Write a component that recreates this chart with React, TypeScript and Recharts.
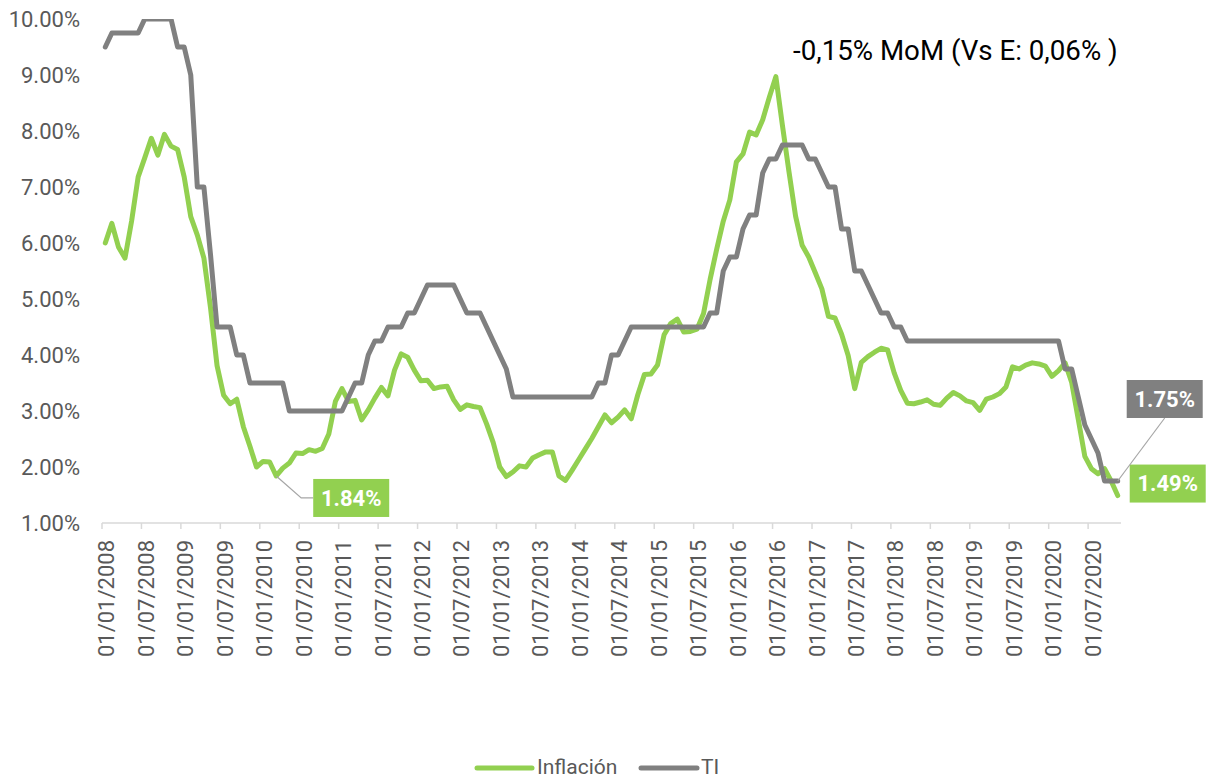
import React from 'react';
import { LineChart, Line, XAxis, YAxis, LabelList } from 'recharts';

const W = 1206;
const H = 778;
const GREEN = '#92D050';
const GRAY = '#808080';
const TEXT = '#595959';
const AXIS = '#D9D9D9';
const FONT = 'Roboto, "Liberation Sans", sans-serif';

// Monthly categories, Jan 2008 .. Nov 2020
const categories: string[] = [];
for (let y = 2008; y <= 2020; y++) {
  for (let m = 1; m <= 12; m++) {
    if (y === 2020 && m > 11) break;
    categories.push(`01/${String(m).padStart(2, '0')}/${y}`);
  }
}

const inflacion: number[] = [
  6.00, 6.35, 5.93, 5.73, 6.39, 7.18, 7.52, 7.87, 7.57, 7.94, 7.73, 7.67,
  7.18, 6.47, 6.14, 5.73, 4.85, 3.81, 3.28, 3.13, 3.21, 2.72, 2.37, 2.00,
  2.10, 2.09, 1.84, 1.98, 2.07, 2.25, 2.24, 2.31, 2.28, 2.33, 2.59, 3.17,
  3.40, 3.17, 3.19, 2.84, 3.02, 3.23, 3.42, 3.27, 3.73, 4.02, 3.96, 3.73,
  3.54, 3.55, 3.40, 3.43, 3.44, 3.20, 3.03, 3.11, 3.08, 3.06, 2.77, 2.44,
  2.00, 1.83, 1.91, 2.02, 2.00, 2.16, 2.22, 2.27, 2.27, 1.84, 1.76, 1.94,
  2.13, 2.32, 2.51, 2.72, 2.93, 2.79, 2.89, 3.02, 2.86, 3.29, 3.65, 3.66,
  3.82, 4.36, 4.56, 4.64, 4.41, 4.42, 4.46, 4.74, 5.35, 5.89, 6.39, 6.77,
  7.45, 7.59, 7.98, 7.93, 8.20, 8.60, 8.97, 8.10, 7.27, 6.48, 5.96, 5.75,
  5.47, 5.18, 4.69, 4.66, 4.37, 3.99, 3.40, 3.87, 3.97, 4.05, 4.12, 4.09,
  3.68, 3.37, 3.14, 3.13, 3.16, 3.20, 3.12, 3.10, 3.23, 3.33, 3.27, 3.18,
  3.15, 3.01, 3.21, 3.25, 3.31, 3.43, 3.79, 3.75, 3.82, 3.86, 3.84, 3.80,
  3.62, 3.72, 3.86, 3.51, 2.85, 2.19, 1.97, 1.88, 1.97, 1.75, 1.49,
];

const ti: number[] = [
  9.50, 9.75, 9.75, 9.75, 9.75, 9.75, 10.00, 10.00, 10.00, 10.00, 10.00, 9.50,
  9.50, 9.00, 7.00, 7.00, 5.80, 4.50, 4.50, 4.50, 4.00, 4.00, 3.50, 3.50,
  3.50, 3.50, 3.50, 3.50, 3.00, 3.00, 3.00, 3.00, 3.00, 3.00, 3.00, 3.00,
  3.00, 3.25, 3.50, 3.50, 4.00, 4.25, 4.25, 4.50, 4.50, 4.50, 4.75, 4.75,
  5.00, 5.25, 5.25, 5.25, 5.25, 5.25, 5.00, 4.75, 4.75, 4.75, 4.50, 4.25,
  4.00, 3.75, 3.25, 3.25, 3.25, 3.25, 3.25, 3.25, 3.25, 3.25, 3.25, 3.25,
  3.25, 3.25, 3.25, 3.50, 3.50, 4.00, 4.00, 4.25, 4.50, 4.50, 4.50, 4.50,
  4.50, 4.50, 4.50, 4.50, 4.50, 4.50, 4.50, 4.50, 4.75, 4.75, 5.50, 5.75,
  5.75, 6.25, 6.50, 6.50, 7.25, 7.50, 7.50, 7.75, 7.75, 7.75, 7.75, 7.50,
  7.50, 7.25, 7.00, 7.00, 6.25, 6.25, 5.50, 5.50, 5.25, 5.00, 4.75, 4.75,
  4.50, 4.50, 4.25, 4.25, 4.25, 4.25, 4.25, 4.25, 4.25, 4.25, 4.25, 4.25,
  4.25, 4.25, 4.25, 4.25, 4.25, 4.25, 4.25, 4.25, 4.25, 4.25, 4.25, 4.25,
  4.25, 4.25, 3.75, 3.75, 3.25, 2.75, 2.50, 2.25, 1.75, 1.75, 1.75,
];

const yTicks: number[] = [1, 2, 3, 4, 5, 6, 7, 8, 9, 10];
const seriesNames = { inflacion: 'Inflación', ti: 'TI' };
const titleText = '-0,15% MoM (Vs E: 0,06% )';

const data = categories.map((date, i) => ({ date, inflacion: inflacion[i], ti: ti[i] }));

const HALF_BAND = 3.29;

const XTick = (props: any) => {
  const { x, y, payload } = props;
  return (
    <g>
      <line x1={x - HALF_BAND} x2={x - HALF_BAND} y1={y} y2={y + 6} stroke={AXIS} strokeWidth={1.5} />
      <g transform={`translate(${x + 1.5},${y + 17})`}>
        <text transform="rotate(-90)" textAnchor="end" dy="0.35em" fill={TEXT} fontSize={22} fontFamily={FONT}>
          {payload.value}
        </text>
      </g>
    </g>
  );
};

const YTick = (props: any) => {
  const { y, payload } = props;
  return (
    <text x={80} y={y} textAnchor="end" dy="0.35em" fill={TEXT} fontSize={22} fontFamily={FONT}>
      {`${Number(payload.value).toFixed(2)}%`}
    </text>
  );
};

const LabelBox = ({ cx, cy, fill, text }: { cx: number; cy: number; fill: string; text: string }) => (
  <g>
    <rect x={cx - 38} y={cy - 19} width={76} height={38} fill={fill} />
    <text x={cx} y={cy} textAnchor="middle" dy="0.35em" fill="#FFFFFF" fontSize={22} fontWeight={700} fontFamily={FONT}>
      {text}
    </text>
  </g>
);

const InflacionLabel = (props: any) => {
  const { x, y, index, value } = props;
  if (index === 26) {
    return (
      <g>
        <polyline points={`${x},${y} ${x + 25},${y + 22} ${x + 37},${y + 22}`} fill="none" stroke="#A6A6A6" strokeWidth={1.2} />
        <LabelBox cx={x + 75} cy={y + 22} fill={GREEN} text={`${Number(value).toFixed(2)}%`} />
      </g>
    );
  }
  if (index === inflacion.length - 1) {
    return <LabelBox cx={x + 50} cy={y - 12} fill={GREEN} text={`${Number(value).toFixed(2)}%`} />;
  }
  return null;
};

const TiLabel = (props: any) => {
  const { x, y, index, value } = props;
  if (index === ti.length - 1) {
    return (
      <g>
        <line x1={x} y1={y} x2={x + 47} y2={y - 63} stroke="#A6A6A6" strokeWidth={1.2} />
        <LabelBox cx={x + 47} cy={y - 82} fill={GRAY} text={`${Number(value).toFixed(2)}%`} />
      </g>
    );
  }
  return null;
};

const legendItems = [
  { name: seriesNames.inflacion, color: GREEN, x1: 477, x2: 532, tx: 537 },
  { name: seriesNames.ti, color: GRAY, x1: 641, x2: 697, tx: 701 },
];

export default function App() {
  return (
    <div style={{ position: 'absolute', left: 0, top: 0, width: W, height: H, background: '#FFFFFF' }}>
      <LineChart
        width={W}
        height={H}
        data={data}
        margin={{ top: 19, right: 85, bottom: 55, left: 8 }}
      >
        <XAxis
          dataKey="date"
          interval={5}
          tickLine={false}
          tickSize={0}
          tickMargin={0}
          axisLine={{ stroke: AXIS, strokeWidth: 1.5 }}
          padding={{ left: HALF_BAND, right: HALF_BAND }}
          height={200}
          tick={<XTick />}
        />
        <YAxis
          domain={[1, 10]}
          ticks={yTicks}
          axisLine={false}
          tickLine={false}
          width={94}
          tick={<YTick />}
          allowDataOverflow
        />
        <Line
          type="linear"
          dataKey="inflacion"
          name={seriesNames.inflacion}
          stroke={GREEN}
          strokeWidth={5}
          strokeLinejoin="round"
          strokeLinecap="round"
          dot={false}
          isAnimationActive={false}
        >
          <LabelList dataKey="inflacion" content={<InflacionLabel />} />
        </Line>
        <Line
          type="linear"
          dataKey="ti"
          name={seriesNames.ti}
          stroke={GRAY}
          strokeWidth={5}
          strokeLinejoin="round"
          strokeLinecap="round"
          dot={false}
          isAnimationActive={false}
        >
          <LabelList dataKey="ti" content={<TiLabel />} />
        </Line>
      </LineChart>
      <svg width={W} height={H} style={{ position: 'absolute', left: 0, top: 0, pointerEvents: 'none' }}>
        <text x={793} y={60} fill="#000000" fontSize={27.7} fontFamily={FONT}>
          {titleText}
        </text>
        {legendItems.map((it) => (
          <g key={it.name}>
            <line x1={it.x1} x2={it.x2} y1={768} y2={768} stroke={it.color} strokeWidth={5} strokeLinecap="round" />
            <text x={it.tx} y={774} fill={TEXT} fontSize={21} fontFamily={FONT}>
              {it.name}
            </text>
          </g>
        ))}
      </svg>
    </div>
  );
}
